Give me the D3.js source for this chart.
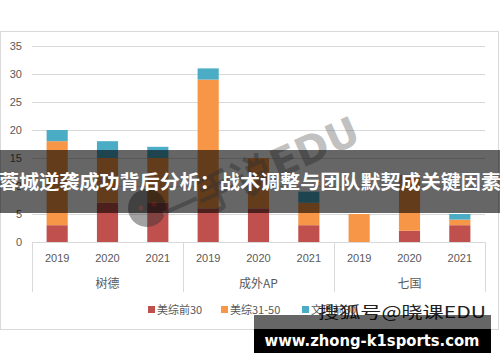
<!DOCTYPE html>
<html>
<head>
<meta charset="utf-8">
<script src="https://cdn.jsdelivr.net/npm/d3@7"></script>
<style>
  body { margin: 0; background: #fff; }
  svg { display: block; }
</style>
</head>
<body>
<svg width="500" height="362"></svg>
<script>

// chart data
var groups = ['树德', '成外AP', '七国'];
var years = ['2019', '2020', '2021'];
var seriesNames = ['美综前30', '美综31-50', '文理前30'];
var meizong30 = [3, 7, 7, 6, 6, 3, 0, 2, 3];
var meizong3150 = [15, 8, 8, 23, 9, 4, 5, 10, 1];
var wenli30 = [2, 3, 2, 2, 0, 2, 0, 0, 1];
var yTicks = [0, 5, 10, 15, 20, 25, 30, 35];
var colors = ['#C0504D', '#F79646', '#4BACC6'];

function drawChart(){
	var svg = d3.select('svg');
	var plotLeft = 32, plotRight = 485, plotTop = 46, plotBottom = 242;

	// one row per bar
	var rows = [];
	groups.forEach(function(g, gi){
		years.forEach(function(yr, yi){
			var i = gi * 3 + yi;
			rows.push({ key: i, group: g, year: yr, s0: meizong30[i], s1: meizong3150[i], s2: wenli30[i] });
		});
	});

	var x = d3.scaleBand()
		.domain(rows.map(function(d){ return d.key }))
		.range([plotLeft, plotRight])
		.paddingInner(0.58)
		.paddingOuter(0.29);

	var y = d3.scaleLinear().domain([0, 35]).range([plotBottom, plotTop]);

	// outer frame
	svg.append('rect')
		.attr('x', 0.5).attr('y', 31.5)
		.attr('width', 498).attr('height', 298)
		.attr('fill', '#fff')
		.attr('stroke', '#d9d9d9');

	// gridlines + y labels
	var yAxis = d3.axisLeft(y).tickValues(yTicks).tickSize(-(plotRight - plotLeft)).tickPadding(10);
	var gy = svg.append('g').attr('transform', 'translate(' + plotLeft + ',0)').call(yAxis);
	gy.select('.domain').remove();
	gy.selectAll('.tick line').attr('stroke', '#d9d9d9');
	gy.selectAll('.tick text')
		.attr('fill', '#595959')
		.style('font-family', 'Liberation Sans, sans-serif')
		.style('font-size', '11px');

	// stacked bars
	var layers = d3.stack().keys(['s0', 's1', 's2'])(rows);

	svg.append('g').selectAll('g')
		.data(layers)
		.enter().append('g')
			.attr('fill', function(d, i){ return colors[i] })
		.selectAll('rect')
		.data(function(d){ return d })
		.enter().append('rect')
			.attr('x', function(d){ return x(d.data.key) })
			.attr('width', x.bandwidth())
			.attr('y', function(d){ return y(d[1]) })
			.attr('height', function(d){ return y(d[0]) - y(d[1]) });

	// category axis: baseline and group separators
	var axisG = svg.append('g');
	axisG.append('line')
		.attr('x1', plotLeft).attr('x2', plotRight)
		.attr('y1', plotBottom + 0.5).attr('y2', plotBottom + 0.5)
		.attr('stroke', '#d9d9d9');

	var groupW = (plotRight - plotLeft) / groups.length;
	var sepX = d3.range(groups.length + 1).map(function(i){ return plotLeft + i * groupW });
	axisG.selectAll('line.sep')
		.data(sepX)
		.enter().append('line')
			.attr('class', 'sep')
			.attr('x1', function(d){ return Math.round(d) + 0.5 })
			.attr('x2', function(d){ return Math.round(d) + 0.5 })
			.attr('y1', plotBottom).attr('y2', 292)
			.attr('stroke', '#d9d9d9');

	axisG.selectAll('text.year')
		.data(rows)
		.enter().append('text')
			.attr('class', 'year')
			.attr('x', function(d){ return x(d.key) + x.bandwidth() / 2 })
			.attr('y', 262)
			.attr('text-anchor', 'middle')
			.attr('fill', '#595959')
			.style('font-family', 'Liberation Sans, sans-serif')
			.style('font-size', '11px')
			.text(function(d){ return d.year });

	axisG.selectAll('text.group')
		.data(groups)
		.enter().append('text')
			.attr('class', 'group')
			.attr('x', function(d, i){ return x(i * 3 + 1) + x.bandwidth() / 2 })
			.attr('y', 288)
			.attr('text-anchor', 'middle')
			.attr('fill', '#595959')
			.style('font-family', 'Noto Sans CJK SC, sans-serif')
			.style('font-size', '12px')
			.text(function(d){ return d });

	// legend
	var legendX = [148, 221, 302];
	var legend = svg.append('g').selectAll('g')
		.data(seriesNames)
		.enter().append('g')
			.attr('transform', function(d, i){ return 'translate(' + legendX[i] + ',306)' });
	legend.append('rect')
		.attr('width', 7).attr('height', 7)
		.attr('fill', function(d, i){ return colors[i] });
	legend.append('text')
		.attr('x', 9).attr('y', 8)
		.attr('fill', '#595959')
		.style('font-family', 'Noto Sans CJK SC, sans-serif')
		.style('font-size', '11px')
		.text(function(d){ return d });

	// watermark
	var wm = svg.append('g').attr('opacity', 0.45);
	wm.append('circle').attr('cx', 147).attr('cy', 208).attr('r', 19).attr('fill', '#333');
	wm.append('circle').attr('cx', 141).attr('cy', 208).attr('r', 2.5).attr('fill', '#e33');
	wm.append('circle').attr('cx', 154).attr('cy', 204).attr('r', 2.5).attr('fill', '#e33');
	wm.append('text')
		.attr('transform', 'translate(168,228) rotate(-24)')
		.attr('fill', '#777')
		.style('font-family', 'DejaVu Sans, sans-serif')
		.style('font-weight', 'bold')
		.style('font-size', '40px')
		.text('一手说EDU');

	// dark title band
	svg.append('rect')
		.attr('x', 0).attr('y', 150)
		.attr('width', 500).attr('height', 63)
		.attr('fill', 'rgba(0,0,0,0.6)');
	svg.append('text')
		.attr('x', 250).attr('y', 189)
		.attr('text-anchor', 'middle')
		.attr('fill', '#fff')
		.attr('textLength', 502)
		.attr('lengthAdjust', 'spacingAndGlyphs')
		.style('font-family', 'Noto Sans CJK SC, sans-serif')
		.style('font-weight', 'bold')
		.style('font-size', '19.5px')
		.text('蓉城逆袭成功背后分析：战术调整与团队默契成关键因素');

	// source watermark and url banner
	svg.append('text')
		.attr('x', 318).attr('y', 318)
		.attr('fill', '#222')
		.attr('textLength', 168)
		.attr('lengthAdjust', 'spacingAndGlyphs')
		.style('font-family', 'Noto Sans CJK SC, sans-serif')
		.style('font-size', '16px')
		.text('搜狐号@晓课EDU');
	svg.append('rect')
		.attr('x', 254).attr('y', 315)
		.attr('width', 237).attr('height', 14)
		.attr('fill', 'rgba(0,0,0,0.6)');
	svg.append('rect')
		.attr('x', 254).attr('y', 329)
		.attr('width', 237).attr('height', 24)
		.attr('fill', '#000');
	svg.append('text')
		.attr('x', 372).attr('y', 346)
		.attr('text-anchor', 'middle')
		.attr('fill', '#fff')
		.attr('textLength', 215)
		.attr('lengthAdjust', 'spacingAndGlyphs')
		.style('font-family', 'DejaVu Sans, sans-serif')
		.style('font-weight', 'bold')
		.style('font-size', '16px')
		.text('www.zhong-k1sports.com');
}

window.onload = drawChart;

</script>
</body>
</html>
